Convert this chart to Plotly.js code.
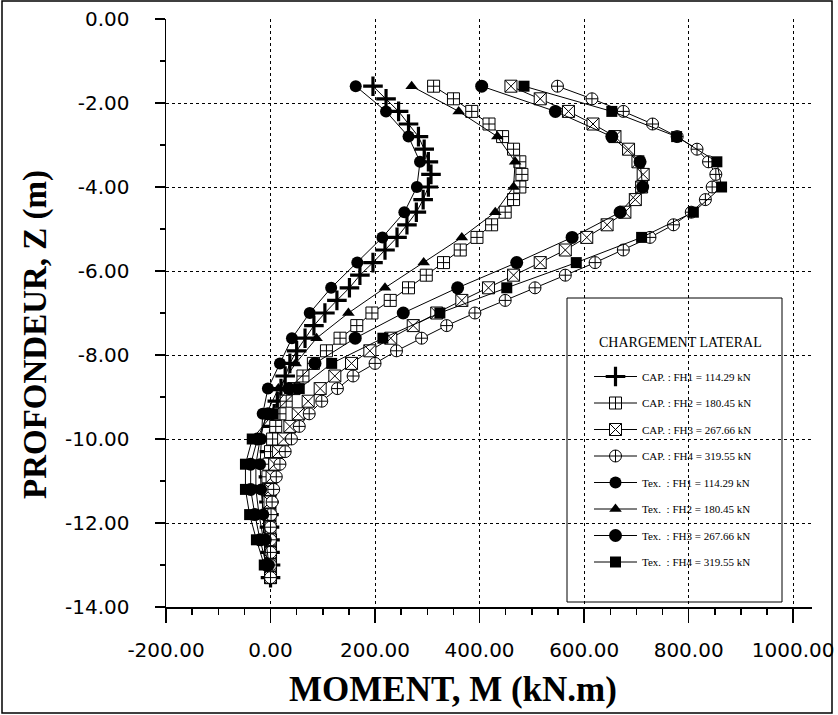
<!DOCTYPE html>
<html>
<head>
<meta charset="utf-8">
<script src="https://cdn.plot.ly/plotly-3.0.1.min.js"></script>
<style>html,body{margin:0;padding:0;background:#fff;}#chart{width:838px;height:715px;}</style>
</head>
<body>
<div id="chart"></div>
<script>
// Depths (m)
const depthCap = [-1.6,-1.9,-2.2,-2.5,-2.8,-3.1,-3.4,-3.7,-4.0,-4.3,-4.6,-4.9,-5.2,-5.5,-5.8,-6.1,-6.4,-6.7,-7.0,-7.3,-7.6,-7.9,-8.2,-8.5,-8.8,-9.1,-9.4,-9.7,-10.0,-10.3,-10.6,-10.9,-11.2,-11.5,-11.8,-12.1,-12.4,-12.7,-13.0,-13.3];
const depthTex = [-1.6,-2.2,-2.8,-3.4,-4.0,-4.6,-5.2,-5.8,-6.4,-7.0,-7.6,-8.2,-8.8,-9.4,-10.0,-10.6,-11.2,-11.8,-12.4,-13.0];

// Moments (kN.m)
const capFH1 = [196,221,245,264,283,294,302,307,302,292,279,261,242,219,196,171,151,127,104,83,66,50,37,28,20,13,7,3,0,-2,-3,-4,-4,-3,-3,-2,-1,-1,0,0];
const capFH2 = [312,350,385,418,444,465,477,481,477,465,449,423,395,363,331,298,264,229,194,165,133,107,82,62,45,30,18,10,4,0,-3,-5,-5,-4,-3,-2,-1,0,0,0];
const capFH3 = [460,516,570,617,659,685,703,713,710,698,678,644,605,564,516,465,417,366,318,273,230,190,155,123,95,72,53,37,25,15,8,3,0,-1,-1,-1,0,0,0,0];
const capFH4 = [549,615,675,731,778,816,838,852,845,832,805,771,726,675,621,564,506,449,391,337,289,241,200,158,128,98,74,55,40,28,18,11,6,3,1,0,0,0,0,0];
const texFH1 = [163,221,264,286,280,256,214,166,116,75,41,18,-5,-15,-18,-20,-18,-14,-9,-3];
const texFH2 = [270,360,434,468,465,430,366,293,219,149,88,48,15,-8,-20,-28,-28,-22,-14,-5];
const texFH3 = [404,545,653,707,712,669,577,471,358,254,162,85,35,-5,-25,-38,-38,-30,-20,-8];
const texFH4 = [485,653,777,854,863,809,710,585,452,324,215,117,55,5,-35,-48,-48,-40,-27,-12];

const names = [
  "CAP. : FH1 = 114.29 kN",
  "CAP. : FH2 = 180.45 kN",
  "CAP. : FH3 = 267.66 kN",
  "CAP. : FH4 = 319.55 kN",
  "Tex.\u00a0 : FH1 = 114.29 kN",
  "Tex.\u00a0 : FH2 = 180.45 kN",
  "Tex.\u00a0 : FH3 = 267.66 kN",
  "Tex.\u00a0 : FH4 = 319.55 kN"
];
const xTicks = [-200, 0, 200, 400, 600, 800, 1000];
const xTickText = ["-200.00", "0.00", "200.00", "400.00", "600.00", "800.00", "1000.00"];
const yTicks = [0, -2, -4, -6, -8, -10, -12, -14];
const yTickText = ["0.00", "-2.00", "-4.00", "-6.00", "-8.00", "-10.00", "-12.00", "-14.00"];
const xTitle = "MOMENT, M (kN.m)";
const yTitle = "PROFONDEUR, Z (m)";
const legendTitle = "CHARGEMENT LATERAL";

const series = [
  {x: capFH1, y: depthCap, m: {symbol: 'cross-thin-open', size: 14, color: '#000', line: {color: '#000', width: 3.2}}},
  {x: capFH2, y: depthCap, m: {symbol: 'square-cross', size: 12, color: '#fff', line: {color: '#000', width: 1}}},
  {x: capFH3, y: depthCap, m: {symbol: 'square-x', size: 12, color: '#fff', line: {color: '#000', width: 1}}},
  {x: capFH4, y: depthCap, m: {symbol: 'circle-cross', size: 12, color: '#fff', line: {color: '#000', width: 1}}},
  {x: texFH1, y: depthTex, m: {symbol: 'circle', size: 12, color: '#000'}},
  {x: texFH2, y: depthTex, m: {symbol: 'triangle-up', size: 11, color: '#000'}},
  {x: texFH3, y: depthTex, m: {symbol: 'circle', size: 13, color: '#000'}},
  {x: texFH4, y: depthTex, m: {symbol: 'square', size: 11, color: '#000'}}
];

const data = series.map((s, i) => ({
  type: 'scatter', mode: 'lines+markers',
  x: s.x, y: s.y, name: names[i], legendgroup: 'g' + i,
  line: {color: '#000', width: 1},
  marker: s.m
}));

// plot area in pixels: left 166, right 812, top 19, bottom 607
const L = 166, R = 812, T = 19, B = 607, W = R - L, H = B - T;
const px = v => (v - L) / W;
const py = v => (B - v) / H;

const layout = {
  width: 838, height: 715,
  margin: {l: L, r: 838 - R, t: T, b: 715 - B, pad: 0},
  paper_bgcolor: '#fff', plot_bgcolor: '#fff',
  showlegend: true,
  font: {family: 'DejaVu Sans', color: '#000'},
  xaxis: {
    range: [-200, 1036], tickvals: xTicks, ticktext: xTickText,
    showgrid: true, gridcolor: '#000', gridwidth: 1, griddash: 'dot',
    zeroline: false, showline: true, linecolor: '#000', linewidth: 1.5,
    ticks: 'outside', ticklen: 14, tickwidth: 1.5, tickcolor: '#000',
    ticklabelstandoff: 10,
    minor: {dtick: 50, ticks: 'outside', ticklen: 6, tickcolor: '#000', showgrid: false},
    tickfont: {family: 'DejaVu Sans', size: 20, color: '#000'},
    automargin: false, fixedrange: true
  },
  yaxis: {
    range: [-14, 0], tickvals: yTicks, ticktext: yTickText,
    showgrid: true, gridcolor: '#000', gridwidth: 1, griddash: 'dot',
    zeroline: false, showline: true, linecolor: '#000', linewidth: 1.5,
    ticks: 'outside', ticklen: 10, tickwidth: 1.5, tickcolor: '#000',
    ticklabelstandoff: 21,
    minor: {dtick: 1, ticks: 'outside', ticklen: 5, tickcolor: '#000', showgrid: false},
    tickfont: {family: 'DejaVu Sans', size: 20, color: '#000'},
    automargin: false, fixedrange: true
  },
  legend: {
    x: px(589), y: py(362), xanchor: 'left', yanchor: 'top',
    bgcolor: 'rgba(0,0,0,0)', borderwidth: 0,
    font: {family: 'Liberation Serif', size: 11, color: '#000'},
    traceorder: 'grouped', tracegroupgap: 7.5, itemwidth: 43
  },
  shapes: [
    {type: 'rect', xref: 'paper', yref: 'paper', x0: px(567), x1: px(782), y0: py(602), y1: py(298), line: {color: '#000', width: 1}, fillcolor: 'rgba(0,0,0,0)'},
    {type: 'rect', xref: 'paper', yref: 'paper', x0: px(2), x1: px(832), y0: py(713), y1: py(1), line: {color: '#000', width: 1.5}, fillcolor: 'rgba(0,0,0,0)'}
  ],
  annotations: [
    {xref: 'paper', yref: 'paper', x: px(680), y: py(342), xanchor: 'center', yanchor: 'middle', showarrow: false,
     text: legendTitle, font: {family: 'Liberation Serif', size: 14, color: '#000'}},
    {xref: 'paper', yref: 'paper', x: px(453), y: py(690), xanchor: 'center', yanchor: 'middle', showarrow: false,
     text: '<b>' + xTitle + '</b>', font: {family: 'Liberation Serif', size: 35, color: '#000'}},
    {xref: 'paper', yref: 'paper', x: px(36), y: py(335), xanchor: 'center', yanchor: 'middle', showarrow: false, textangle: -90,
     text: '<b>' + yTitle + '</b>', font: {family: 'Liberation Serif', size: 33, color: '#000'}}
  ]
};

Plotly.newPlot('chart', data, layout, {displayModeBar: false, staticPlot: true});
</script>
</body>
</html>
